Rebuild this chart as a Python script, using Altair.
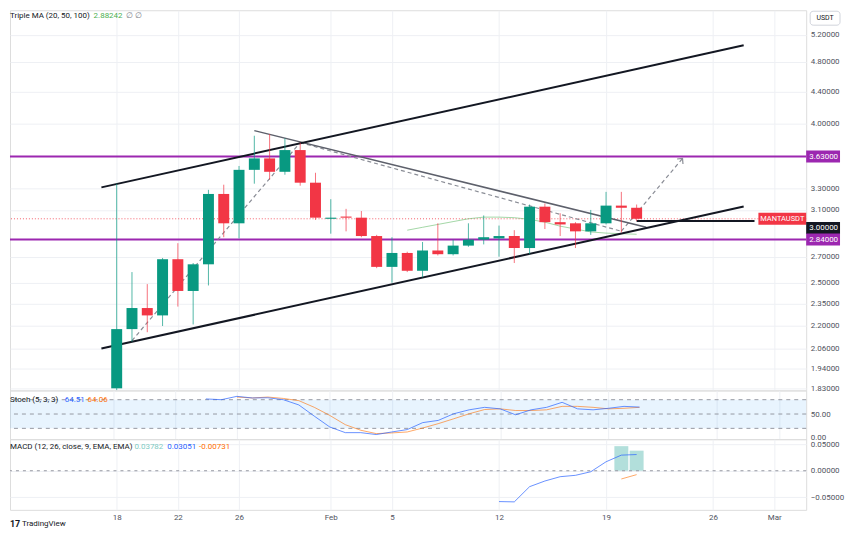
import altair as alt
import pandas as pd

FONT = "Roboto"
GREEN = "#089981"
RED = "#f23645"
PURPLE = "#9c27b0"
GRID = "#eef0f4"
AXIS_TXT = "#50535e"
BLUE = "#2962ff"
ORANGE = "#ff6d00"
FS = 8

# ---------------- data ----------------
dates = ["2024-01-18", "2024-01-19", "2024-01-20", "2024-01-21", "2024-01-22", "2024-01-23",
         "2024-01-24", "2024-01-25", "2024-01-26", "2024-01-27", "2024-01-28", "2024-01-29",
         "2024-01-30", "2024-01-31", "2024-02-01", "2024-02-02", "2024-02-03", "2024-02-04",
         "2024-02-05", "2024-02-06", "2024-02-07", "2024-02-08", "2024-02-09", "2024-02-10",
         "2024-02-11", "2024-02-12", "2024-02-13", "2024-02-14", "2024-02-15", "2024-02-16",
         "2024-02-17", "2024-02-18", "2024-02-19", "2024-02-20", "2024-02-21"]
opens = [1.83, 2.18, 2.32, 2.27, 2.68, 2.44, 2.64, 3.25, 2.98, 3.49, 3.61, 3.47, 3.70, 3.36, 3.02,
         3.04, 3.03, 2.87, 2.62, 2.73, 2.59, 2.75, 2.72, 2.79, 2.84, 2.85, 2.87, 2.77, 3.13, 2.99,
         2.98, 2.91, 2.98, 3.14, 3.12]
highs = [3.35, 2.58, 2.49, 2.69, 2.81, 2.65, 3.29, 3.34, 3.53, 3.86, 3.88, 3.83, 3.78, 3.46, 3.20,
         3.11, 3.09, 2.88, 2.86, 2.74, 2.82, 2.98, 2.84, 2.98, 3.05, 2.96, 2.92, 3.15, 3.16, 3.07,
         2.99, 3.10, 3.27, 3.27, 3.15]
lows = [1.82, 2.10, 2.16, 2.20, 2.33, 2.21, 2.48, 2.86, 2.85, 3.35, 3.39, 3.44, 3.33, 3.01, 2.89,
        2.91, 2.86, 2.61, 2.50, 2.58, 2.54, 2.71, 2.71, 2.78, 2.80, 2.70, 2.65, 2.72, 2.93, 2.87,
        2.77, 2.88, 2.97, 2.90, 3.00]
closes = [2.18, 2.32, 2.27, 2.68, 2.44, 2.64, 3.25, 2.98, 3.49, 3.61, 3.47, 3.70, 3.36, 3.03, 3.03,
          3.03, 2.87, 2.62, 2.73, 2.59, 2.75, 2.72, 2.79, 2.84, 2.86, 2.87, 2.77, 3.13, 2.99, 2.97,
          2.91, 2.98, 3.14, 3.12, 3.02]

ma_dates = ["2024-02-06", "2024-02-07", "2024-02-08", "2024-02-09", "2024-02-10", "2024-02-11",
            "2024-02-12", "2024-02-13", "2024-02-14", "2024-02-15", "2024-02-16", "2024-02-17",
            "2024-02-18", "2024-02-19", "2024-02-20", "2024-02-21"]
ma_values = [2.92, 2.945, 2.97, 2.995, 3.02, 3.035, 3.035, 3.03, 3.015, 2.99, 2.955, 2.93,
             2.905, 2.895, 2.89, 2.885]

# drawings: (name, style, date, price)
drawing_names = ["upper", "upper", "lower", "lower", "desc", "desc", "hline", "hline",
                 "dash1", "dash1", "dash2", "dash2", "dash3", "dash3"]
drawing_styles = ["solid", "solid", "solid", "solid", "thin", "thin", "solid", "solid",
                  "dash", "dash", "dash", "dash", "dash", "dash"]
drawing_dates = ["2024-01-17", "2024-02-28", "2024-01-17", "2024-02-28",
                 "2024-01-27", "2024-02-21T15:00", "2024-02-21", "2024-02-28T17:00",
                 "2024-01-19", "2024-01-30", "2024-01-30", "2024-02-20", "2024-02-20", "2024-02-24"]
drawing_prices = [3.314, 5.043, 2.058, 3.132, 3.919, 2.946, 3.00, 3.00,
                  2.107, 3.783, 3.783, 2.911, 2.911, 3.609]

levels_purple = [3.63, 2.84]
last_price = 3.02
hline_price = 3.00

price_ticks = [1.83, 1.94, 2.06, 2.20, 2.35, 2.50, 2.70, 3.10, 3.30, 4.00, 4.40, 4.80, 5.20]

stoch_k_dates = ["2024-01-24", "2024-01-25", "2024-01-26", "2024-01-27", "2024-01-28",
                 "2024-01-29", "2024-01-30", "2024-01-31", "2024-02-01", "2024-02-02",
                 "2024-02-03", "2024-02-04", "2024-02-05", "2024-02-06", "2024-02-07",
                 "2024-02-08", "2024-02-09", "2024-02-10", "2024-02-11", "2024-02-12",
                 "2024-02-13", "2024-02-14", "2024-02-15", "2024-02-16", "2024-02-17",
                 "2024-02-18", "2024-02-19", "2024-02-20", "2024-02-21"]
stoch_k = [81.6, 80, 87, 83.6, 84, 80, 69, 45.5, 22.8, 11, 11, 7, 12.4, 17.4, 32, 36.6, 50.5,
           58.8, 64, 60.8, 48.4, 58.8, 64, 74.5, 60.8, 58.8, 62, 66, 64.5]
stoch_d_dates = stoch_k_dates[2:]
stoch_d = [85.5, 83.6, 85.5, 82.6, 78, 64, 47, 27.7, 16, 9, 10.4, 12.4, 20.7, 29.8, 40, 50.5,
           59.4, 60.8, 57.3, 57.3, 58.8, 66, 66, 64, 60.8, 62, 64]

macd_dates = ["2024-02-12", "2024-02-13", "2024-02-14", "2024-02-15", "2024-02-16",
              "2024-02-17", "2024-02-18", "2024-02-19", "2024-02-20", "2024-02-21"]
macd_line = [-0.058, -0.0586, -0.030, -0.0193, -0.0112, -0.0086, -0.0019, 0.0169, 0.0294, 0.0305]
signal_dates = ["2024-02-20", "2024-02-21"]
signal_line = [-0.0155, -0.0073]
hist_dates = ["2024-02-20", "2024-02-21"]
hist_values = [0.0463, 0.0378]

tick_dates = ["2024-01-18", "2024-01-22", "2024-01-26", "2024-02-01", "2024-02-05",
              "2024-02-12", "2024-02-19", "2024-02-26", "2024-03-01"]
tick_labels = ["18", "22", "26", "Feb", "5", "12", "19", "26", "Mar"]

# ---------------- layout ----------------
W = 800
H_MAIN, H_STOCH, H_MACD = 382, 49, 71
X_DOM = [-6.652, 44.762]
P_DOM = [1.8187, 5.593]
S_DOM = [-2.7, 99.4]
M_DOM = [-0.0736, 0.0594]

base = pd.Timestamp("2024-01-18")


def day(s):
    return (pd.Timestamp(s) - base) / pd.Timedelta(days=1)


tick_vals = [day(d) for d in tick_dates]
label_expr = "''"
for v, lab in reversed(list(zip(tick_vals, tick_labels))):
    label_expr = f"datum.value == {v} ? '{lab}' : ({label_expr})"

xscale = alt.Scale(domain=X_DOM, nice=False, zero=False)
x_axis_grid = alt.Axis(values=tick_vals, labels=False, ticks=False, domain=False, grid=True,
                       gridColor=GRID, title=None)
x_axis_labels = alt.Axis(values=tick_vals, labelExpr=label_expr, ticks=False, domain=False,
                         grid=True, gridColor=GRID, title=None, labelFontSize=FS,
                         labelColor=AXIS_TXT, labelPadding=4, labelFlush=False,
                         labelOverlap=False, labelFont=FONT)


def X(field="t", axis=x_axis_grid):
    return alt.X(f"{field}:Q", scale=xscale, axis=axis)


yscale_main = alt.Scale(type="log", domain=P_DOM, nice=False, zero=False)
y_axis_main = alt.Axis(orient="right", values=price_ticks, format=".5f", grid=True,
                       gridColor=GRID, domain=False, ticks=False, labelPadding=4,
                       labelFontSize=FS, labelColor=AXIS_TXT, title=None, labelOverlap=False,
                       labelFont=FONT)


def YM(field):
    return alt.Y(f"{field}:Q", scale=yscale_main, axis=y_axis_main)


candles = pd.DataFrame({"date": dates, "open": opens, "high": highs, "low": lows,
                        "close": closes})
candles["t"] = [day(d) for d in dates]
candles["dir"] = ["up" if c >= o else "down" for o, c in zip(opens, closes)]
color_enc = alt.Color("dir:N", scale=alt.Scale(domain=["up", "down"], range=[GREEN, RED]),
                      legend=None)

cbase = alt.Chart(candles)
wicks = cbase.mark_rule(strokeWidth=1, opacity=0.7).encode(
    x=X(), y=YM("low"), y2="high:Q", color=color_enc)
bodies = cbase.mark_bar(size=11).encode(x=X(), y=YM("open"), y2="close:Q", color=color_enc)

purple_df = pd.DataFrame({"price": levels_purple})
purple_rules = alt.Chart(purple_df).mark_rule(color=PURPLE, strokeWidth=2).encode(y=YM("price"))
last_rule = alt.Chart(pd.DataFrame({"price": [last_price]})).mark_rule(
    color=RED, strokeWidth=1, strokeDash=[1, 2], opacity=0.8).encode(y=YM("price"))

ma_df = pd.DataFrame({"t": [day(d) for d in ma_dates], "price": ma_values})
ma_line = alt.Chart(ma_df).mark_line(color="#66bb6a", strokeWidth=1, opacity=0.6).encode(
    x=X(), y=YM("price"))

dr = pd.DataFrame({"name": drawing_names, "style": drawing_styles,
                   "t": [day(d) for d in drawing_dates], "price": drawing_prices})
solid_lines = alt.Chart(dr[dr["style"] == "solid"]).mark_line(
    color="#131722", strokeWidth=2, clip=True).encode(x=X(), y=YM("price"), detail="name:N")
thin_lines = alt.Chart(dr[dr["style"] == "thin"]).mark_line(
    color="#5d606b", strokeWidth=1.5, clip=True).encode(x=X(), y=YM("price"), detail="name:N")
dash_lines = alt.Chart(dr[dr["style"] == "dash"]).mark_line(
    color="#8a8d96", strokeWidth=1.2, strokeDash=[4, 3], clip=True).encode(
    x=X(), y=YM("price"), detail="name:N")
arrow_df = dr[dr["name"] == "dash3"].tail(1)
arrow = alt.Chart(arrow_df).mark_point(
    shape="M-1,1L0,0L1,1", filled=False, size=60, strokeWidth=1.2, color="#8a8d96",
    opacity=1, angle=40).encode(x=X(), y=YM("price"))


def price_tag(price, text, fill, dy):
    df = pd.DataFrame({"price": [price], "text": [text]})
    box = alt.Chart(df).mark_rect(color=fill, yOffset=dy - 6, y2Offset=dy + 6).encode(
        x=alt.value(W), x2=alt.value(W + 34), y=YM("price"), y2="price:Q")
    label = alt.Chart(df).mark_text(fontSize=FS, font=FONT, color="white", align="left",
                                    baseline="middle", dy=dy).encode(
        x=alt.value(W + 3), y=YM("price"), text="text:N")
    return [box, label]


tags = (price_tag(levels_purple[0], f"{levels_purple[0]:.5f}", PURPLE, 0)
        + price_tag(hline_price, f"{hline_price:.5f}", "#131722", 7)
        + price_tag(levels_purple[1], f"{levels_purple[1]:.5f}", PURPLE, 0))

sym_df = pd.DataFrame({"price": [last_price], "text": ["MANTAUSDT"]})
sym_box = alt.Chart(sym_df).mark_rect(color=RED, yOffset=-6, y2Offset=6).encode(
    x=alt.value(W - 48), x2=alt.value(W), y=YM("price"), y2="price:Q")
sym_txt = alt.Chart(sym_df).mark_text(fontSize=7.5, font=FONT, color="white", align="center",
                                      baseline="middle").encode(
    x=alt.value(W - 24), y=YM("price"), text="text:N")


def txt(text, x, y, color, size=FS, weight="normal", align="left"):
    return alt.Chart(pd.DataFrame({"s": [text]})).mark_text(
        align=align, baseline="middle", fontSize=size, font=FONT, color=color,
        fontWeight=weight).encode(x=alt.value(x), y=alt.value(y), text="s:N")


usdt_box = alt.Chart(pd.DataFrame({"s": ["USDT"]})).mark_rect(
    fill="white", stroke="#d1d4dc", strokeWidth=1, cornerRadius=3).encode(
    x=alt.value(W + 4), x2=alt.value(W + 34), y=alt.value(1), y2=alt.value(15))

main = alt.layer(
    purple_rules, last_rule, ma_line, dash_lines, arrow, thin_lines, solid_lines,
    wicks, bodies, sym_box, sym_txt, *tags,
    txt("Triple MA (20, 50, 100)", 0, 6, "#131722"),
    txt("2.88242", 84, 6, "#4caf50"),
    txt("\u2205  \u2205", 117, 6, "#787b86"),
    usdt_box, txt("USDT", W + 19, 8, "#131722", size=7, align="center"),
).properties(width=W, height=H_MAIN)

# ---------------- stochastic ----------------
yscale_s = alt.Scale(domain=S_DOM, nice=False, zero=False)
y_axis_s = alt.Axis(orient="right", values=[0, 50], format=".2f", grid=False, domain=False,
                    ticks=False, labelPadding=4, labelFontSize=FS, labelColor=AXIS_TXT,
                    title=None, labelOverlap=False, labelFont=FONT)


def YS(field):
    return alt.Y(f"{field}:Q", scale=yscale_s, axis=y_axis_s)


band = alt.Chart(pd.DataFrame({"lo": [20], "hi": [80]})).mark_rect(
    color="#2196f3", opacity=0.1).encode(y=YS("lo"), y2="hi:Q")
band_rules = alt.Chart(pd.DataFrame({"level": [80, 50, 20]})).mark_rule(
    color="#9598a1", strokeDash=[4, 4], strokeWidth=1).encode(y=YS("level"))
k_df = pd.DataFrame({"t": [day(d) for d in stoch_k_dates], "v": stoch_k})
d_df = pd.DataFrame({"t": [day(d) for d in stoch_d_dates], "v": stoch_d})
k_line = alt.Chart(k_df).mark_line(color=BLUE, strokeWidth=1, opacity=0.7).encode(
    x=X(), y=YS("v"))
d_line = alt.Chart(d_df).mark_line(color=ORANGE, strokeWidth=1, opacity=0.6).encode(
    x=X(), y=YS("v"))
stoch = alt.layer(
    band, band_rules, d_line, k_line,
    txt("Stoch (5, 3, 3)", 0, 10, "#131722"),
    txt("64.51", 55, 10, BLUE),
    txt("64.06", 78, 10, ORANGE),
).properties(width=W, height=H_STOCH)

# ---------------- MACD ----------------
yscale_m = alt.Scale(domain=M_DOM, nice=False, zero=False)
y_axis_m = alt.Axis(orient="right", values=[-0.05, 0, 0.05], format=".5f", grid=True,
                    gridColor=GRID, domain=False, ticks=False, labelPadding=4, labelFontSize=FS,
                    labelColor=AXIS_TXT, title=None, labelOverlap=False, labelFont=FONT)


def YMC(field):
    return alt.Y(f"{field}:Q", scale=yscale_m, axis=y_axis_m)


hist_df = pd.DataFrame({"t": [day(d) for d in hist_dates], "v": hist_values})
macd_df = pd.DataFrame({"t": [day(d) for d in macd_dates], "v": macd_line})
sig_df = pd.DataFrame({"t": [day(d) for d in signal_dates], "v": signal_line})
hist = alt.Chart(hist_df).mark_bar(size=14, color="#b2dfdb").encode(
    x=X(axis=x_axis_labels), y=YMC("v"))
zero_rule = alt.Chart(pd.DataFrame({"v": [0]})).mark_rule(
    color="#9598a1", strokeDash=[3, 4], strokeWidth=1).encode(y=YMC("v"))
macd_l = alt.Chart(macd_df).mark_line(color=BLUE, strokeWidth=1, opacity=0.7).encode(
    x=X(axis=x_axis_labels), y=YMC("v"))
sig_l = alt.Chart(sig_df).mark_line(color=ORANGE, strokeWidth=1, opacity=0.6).encode(
    x=X(axis=x_axis_labels), y=YMC("v"))
macd = alt.layer(
    hist, zero_rule, macd_l, sig_l,
    txt("MACD (12, 26, close, 9, EMA, EMA)", 0, 8, "#131722"),
    txt("0.03782", 125, 8, "#80cbc4"),
    txt("0.03051", 158, 8, BLUE),
    txt("-0.00731", 190, 8, ORANGE),
    txt("17", 0, 85, "#131722", size=9, weight="bold"),
    txt("TradingView", 12, 85, "#131722", size=8),
).properties(width=W, height=H_MACD)

chart = alt.vconcat(main, stoch, macd, spacing=0, bounds="flush", padding=0).configure_view(
    stroke="#e0e3eb", strokeWidth=1).configure(font=FONT, background="white")

chart.save("out.html", embed_options={"renderer": "svg", "actions": False})
